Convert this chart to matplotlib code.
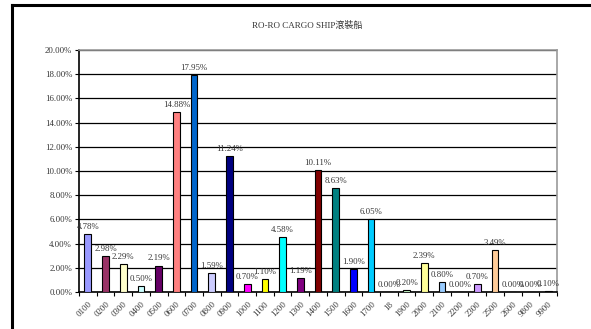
import matplotlib
matplotlib.use("Agg")
import matplotlib.pyplot as plt
from matplotlib.lines import Line2D
import numpy as np

# Data
categories = ["0100", "0200", "0300", "0400", "0500", "0600", "0700", "0800", "0900",
              "1000", "1100", "1200", "1300", "1400", "1500", "1600", "1700", "18",
              "1900", "2000", "2100", "2200", "2300", "2500", "2600", "9800", "9900"]
shares = [4.78, 2.98, 2.29, 0.50, 2.19, 14.88, 17.95, 1.59, 11.24,
          0.70, 1.10, 4.58, 1.19, 10.11, 8.63, 1.90, 6.05, 0.00,
          0.20, 2.39, 0.80, 0.00, 0.70, 3.49, 0.00, 0.00, 0.10]
colors = ["#9999FF", "#993366", "#FFFFCC", "#CCFFFF", "#660066", "#FF8080", "#0066CC",
          "#CCCCFF", "#000080", "#FF00FF", "#FFFF00", "#00FFFF", "#800080", "#800000",
          "#008080", "#0000FF", "#00CCFF", "#CCFFFF", "#CCFFCC", "#FFFF99", "#99CCFF",
          "#FF99CC", "#CC99FF", "#FFCC99", "#3366FF", "#33CCCC", "#000000"]
title = "RO-RO CARGO SHIP滾裝船"

FONT = ["Liberation Serif", "Noto Sans CJK TC", "DejaVu Sans"]
plt.rcParams["font.family"] = FONT

W, H = 591, 329
fig = plt.figure(figsize=(W / 100, H / 100), dpi=100)

# outer chart frame (only left and top visible)
fig.add_artist(Line2D([12 / W, 12 / W], [0, 1 - 5 / H], color="black", lw=2.2,
                      transform=fig.transFigure))
fig.add_artist(Line2D([12 / W, 1], [1 - 5 / H, 1 - 5 / H], color="black", lw=2.2,
                      transform=fig.transFigure))

left, right, top, bottom = 79, 557, 50, 292
ax = fig.add_axes([left / W, 1 - bottom / H, (right - left) / W, (bottom - top) / H])

x = np.arange(len(categories))
ax.bar(x, shares, width=0.38, color=colors, edgecolor="black", linewidth=0.8, zorder=3)

for xi, v in zip(x, shares):
    ax.text(xi, v + 0.25, f"{v:.2f}%", ha="center", va="bottom", fontsize=6.3,
            color="#333333", zorder=4)

ax.set_xlim(-0.5, len(categories) - 0.5)
ax.set_ylim(0, 20)
yt = np.arange(0, 20.1, 2)
ax.set_yticks(yt)
ax.set_yticklabels([f"{v:.2f}%" for v in yt], fontsize=6.3, color="#333333")
ax.yaxis.grid(True, color="black", linewidth=0.9, zorder=0)
ax.set_axisbelow(True)

ax.set_xticks(x)
ax.set_xticklabels(categories, rotation=45, ha="right", rotation_mode="anchor",
                   fontsize=6.3, color="#333333")
ax.tick_params(axis="x", length=0, pad=6)
ax.set_xticks(np.arange(-0.5, len(categories)), minor=True)
ax.tick_params(axis="x", which="minor", length=3, direction="out", width=0.8)
ax.tick_params(axis="y", length=3, width=0.8, pad=2)

for s in ["top", "right"]:
    ax.spines[s].set_color("#999999")
    ax.spines[s].set_linewidth(1.2)
for s in ["left", "bottom"]:
    ax.spines[s].set_color("black")
    ax.spines[s].set_linewidth(1.2)

fig.text(307 / W, 1 - 25 / H, title, ha="center", va="center", fontsize=6.5,
         color="#333333")

fig.savefig("out.png", dpi=100)
